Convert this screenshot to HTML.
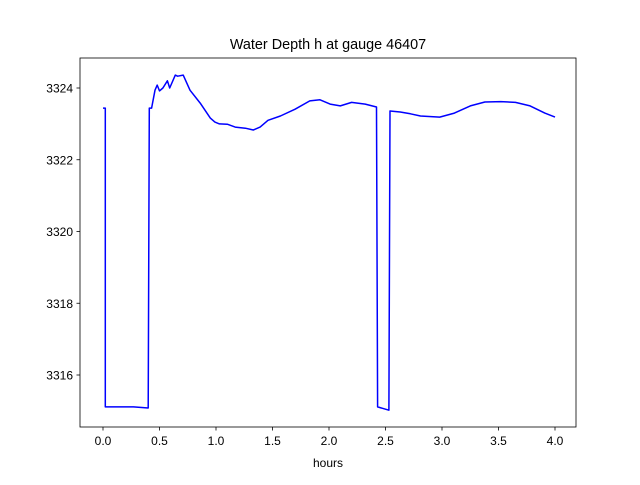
<!DOCTYPE html>
<html><head><meta charset="utf-8"><style>
body{margin:0;background:#fff}
svg text{font-family:"Liberation Sans","DejaVu Sans",sans-serif;font-size:12px;fill:#000}
</style></head><body>
<svg id="chart" width="640" height="480" xmlns="http://www.w3.org/2000/svg">
<rect width="640" height="480" fill="#fff"/>
<text x="328" y="49" text-anchor="middle" style="font-size:14.4px">Water Depth h at gauge 46407</text>
<text x="328" y="467" text-anchor="middle">hours</text>
<g id="ticks"></g>
<path id="line" fill="none" stroke="#0000ff" stroke-width="1.5" stroke-linejoin="round"/>
<rect x="80" y="58" width="496" height="369" fill="none" stroke="#000" stroke-width="0.8"/>
</svg>
<script>
const hours=[0,0.02,0.02,0.27,0.40,0.41,0.43,0.46,0.48,0.50,0.53,0.57,0.59,0.64,0.66,0.71,0.77,0.86,0.95,0.99,1.03,1.10,1.17,1.26,1.33,1.39,1.46,1.57,1.70,1.83,1.92,2.01,2.10,2.20,2.32,2.42,2.43,2.53,2.54,2.63,2.72,2.81,2.98,3.11,3.25,3.38,3.52,3.65,3.78,3.91,4.0];
const depth=[3323.44,3323.44,3315.11,3315.11,3315.08,3323.44,3323.44,3323.94,3324.08,3323.92,3324.0,3324.2,3324.0,3324.36,3324.33,3324.36,3323.94,3323.58,3323.16,3323.05,3323.0,3322.99,3322.91,3322.88,3322.83,3322.91,3323.1,3323.22,3323.41,3323.64,3323.67,3323.55,3323.5,3323.6,3323.55,3323.47,3315.11,3315.02,3323.36,3323.33,3323.28,3323.22,3323.19,3323.3,3323.5,3323.61,3323.62,3323.6,3323.5,3323.3,3323.19];
const xTicks=[0.0,0.5,1.0,1.5,2.0,2.5,3.0,3.5,4.0];
const yTicks=[3316,3318,3320,3322,3324];
const X=h=>103+h*113;
const Y=v=>88+(3324-v)*35.875;
const NS="http://www.w3.org/2000/svg";
const g=document.getElementById('ticks');
xTicks.forEach(t=>{
  const l=document.createElementNS(NS,'line');
  l.setAttribute('x1',X(t));l.setAttribute('x2',X(t));l.setAttribute('y1',427);l.setAttribute('y2',430.5);l.setAttribute('stroke','#000');l.setAttribute('stroke-width','0.8');
  
  
  g.appendChild(l);
  const tx=document.createElementNS(NS,'text');
  tx.setAttribute('x',X(t));tx.setAttribute('y',445);tx.setAttribute('text-anchor','middle');tx.textContent=t.toFixed(1);
  
  
  g.appendChild(tx);
});
yTicks.forEach(t=>{
  const l=document.createElementNS(NS,'line');
  l.setAttribute('x1',76.5);l.setAttribute('x2',80);l.setAttribute('y1',Y(t));l.setAttribute('y2',Y(t));l.setAttribute('stroke','#000');l.setAttribute('stroke-width','0.8');
  
  
  g.appendChild(l);
  const tx=document.createElementNS(NS,'text');
  tx.setAttribute('x',73);tx.setAttribute('y',Y(t)+4.5);tx.setAttribute('text-anchor','end');tx.textContent=t;
  
  
  g.appendChild(tx);
});
document.getElementById('line').setAttribute('d',hours.map((h,i)=>(i?'L':'M')+X(h).toFixed(1)+','+Y(depth[i]).toFixed(1)).join(''));
</script>
</body></html>
